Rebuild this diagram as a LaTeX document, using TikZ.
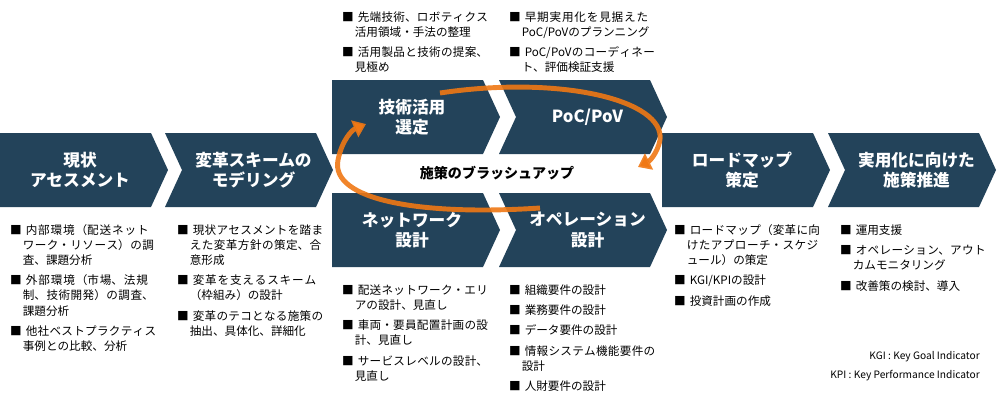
\documentclass[tikz,border=0pt]{standalone}
\usepackage{fontspec}
\setmainfont{Noto Sans CJK JP}
\XeTeXlinebreaklocale "ja"
\XeTeXlinebreakskip=0pt plus 1pt
\usetikzlibrary{positioning,arrows.meta}
\definecolor{navy}{HTML}{23435A}
\definecolor{orng}{HTML}{F07814}
\tikzset{
  chevfill/.style={fill=navy,draw=none},
  steplabel/.style={text=white,font=\bfseries\fontsize{9.5}{11.5}\selectfont,align=center},
  blist/.style={anchor=north west,align=left,inner sep=1pt,font=\fontsize{6.6}{8.6}\selectfont},
  loop/.style={draw=orng,line width=2.8pt,-{Triangle[length=7pt,width=10pt]}}
}
% chevron: name, left x, top y, notch depth, text
\newcommand{\chev}[5]{%
  \fill[chevfill] (#2,#3) -- ++(151,0) -- ++(17,37) -- ++(-17,37) -- ++(-151,0) -- ++(#4,-37) -- cycle;
  \node[steplabel] (#1) at (#2+80+#4/2,#3+37) {#5};}
\newcommand{\itm}[1]{\par\hangindent=1.1em\hangafter=1\noindent ■\hspace{0.35em}#1\par\vspace{3pt}}
\begin{document}
\begin{tikzpicture}[x=0.02cm,y=-0.02cm]
\useasboundingbox (0,0) rectangle (1000,403);
\chev{genjo}{0}{133}{0}{現状\\アセスメント}
\chev{henkaku}{165}{133}{17}{変革スキームの\\モデリング}
\chev{gijutsu}{332}{80}{0}{技術活用\\選定}
\chev{poc}{499}{80}{17}{PoC/PoV}
\chev{network}{332}{193}{0}{ネットワーク\\設計}
\chev{ope}{499}{193}{17}{オペレーション\\設計}
\chev{roadmap}{662}{133}{0}{ロードマップ\\策定}
\chev{jitsuyo}{828}{133}{17}{実用化に向けた\\施策推進}
\node[font=\bfseries\fontsize{8}{10}\selectfont] (brush) at (497,173) {施策のブラッシュアップ};
% loop arrows
\draw[loop,draw opacity=0.9] (540,208) .. controls (420,216) and (330,200) .. (338,160)
  .. controls (342,140) and (352,130) .. (366,124);
\draw[loop,draw opacity=0.9] (440,93) .. controls (560,75) and (665,100) .. (660,140)
  .. controls (657,155) and (648,162) .. (638,167);
% lists
\node[blist,text width=3.0cm] (lgenjo) at (8,217) {\itm{内部環境（配送ネットワーク・リソース）の調査、課題分析}\itm{外部環境（市場、法規制、技術開発）の調査、課題分析}\itm{他社ベストプラクティス事例との比較、分析}};
\node[blist,text width=3.0cm] (lhenkaku) at (175,217) {\itm{現状アセスメントを踏まえた変革方針の策定、合意形成}\itm{変革を支えるスキーム（枠組み）の設計}\itm{変革のテコとなる施策の抽出、具体化、詳細化}};
\node[blist,text width=3.0cm] (lgijutsu) at (340,4) {\itm{先端技術、ロボティクス活用領域・手法の整理}\itm{活用製品と技術の提案、見極め}};
\node[blist,text width=3.0cm] (lpoc) at (507,4) {\itm{早期実用化を見据えたPoC/PoVのプランニング}\itm{PoC/PoVのコーディネート、評価検証支援}};
\node[blist,text width=3.0cm] (lnetwork) at (340,277) {\itm{配送ネットワーク・エリアの設計、見直し}\itm{車両・要員配置計画の設計、見直し}\itm{サービスレベルの設計、見直し}};
\node[blist,text width=3.0cm] (lope) at (507,277) {\itm{組織要件の設計}\itm{業務要件の設計}\itm{データ要件の設計}\itm{情報システム機能要件の設計}\itm{人財要件の設計}};
\node[blist,text width=3.0cm] (lroadmap) at (672,217) {\itm{ロードマップ（変革に向けたアプローチ・スケジュール）の策定}\itm{KGI/KPIの設計}\itm{投資計画の作成}};
\node[blist,text width=3.0cm] (ljitsuyo) at (838,217) {\itm{運用支援}\itm{オペレーション、アウトカムモニタリング}\itm{改善策の検討、導入}};
\node[anchor=east,font=\fontsize{5.8}{7}\selectfont] (kgi) at (986,357) {KGI : Key Goal Indicator};
\node[anchor=east,font=\fontsize{5.8}{7}\selectfont] (kpi) at (986,376) {KPI : Key Performance Indicator};
\end{tikzpicture}
\end{document}
